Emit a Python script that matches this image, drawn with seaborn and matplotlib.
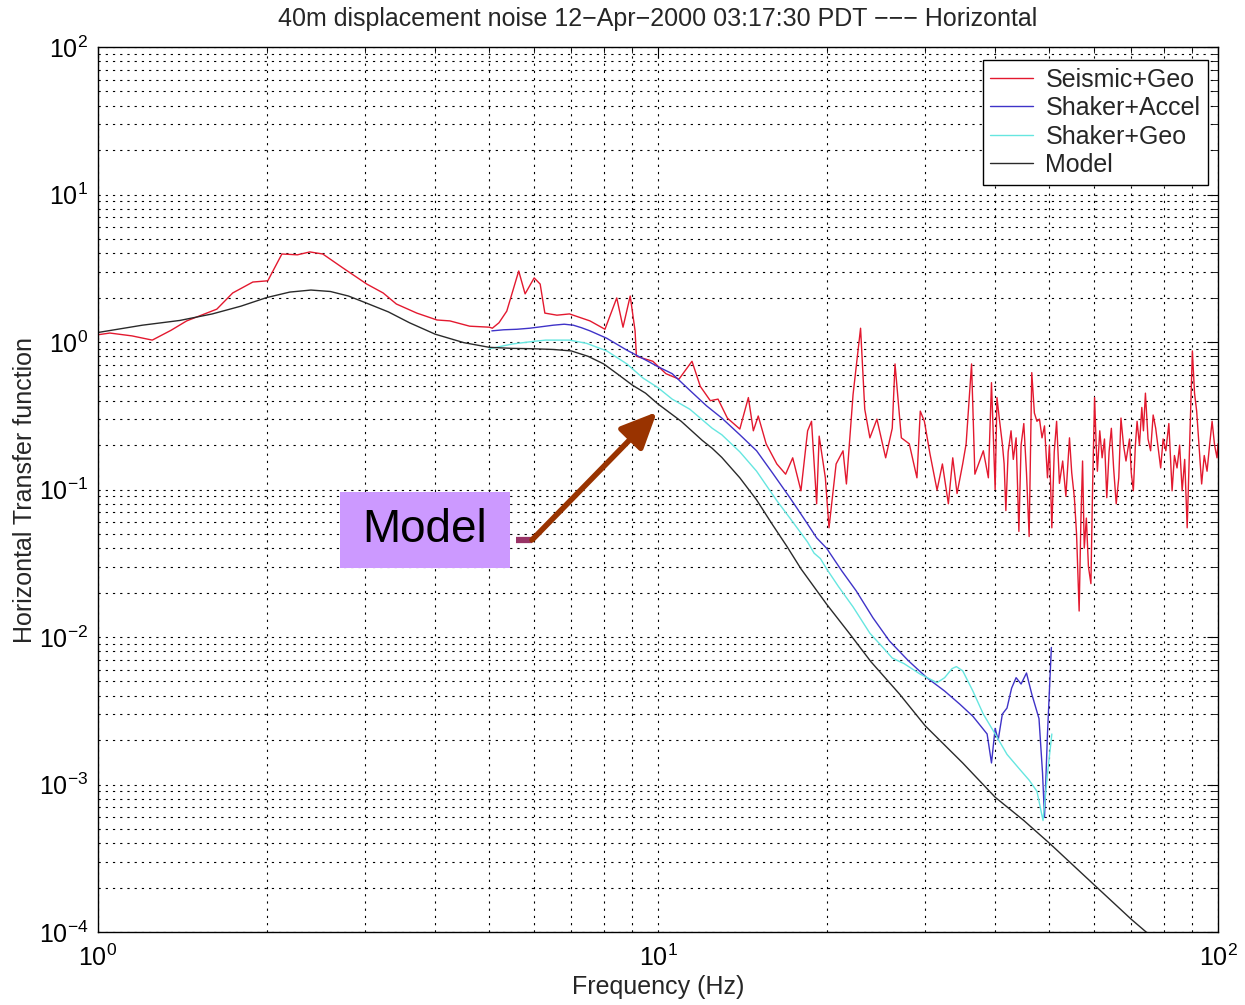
import matplotlib
matplotlib.use("Agg")
import matplotlib.pyplot as plt
from matplotlib.lines import Line2D
from matplotlib.patches import Rectangle
from matplotlib.ticker import FixedLocator, LogLocator, NullFormatter
import seaborn as sns
import pandas as pd

# ---------------- data ----------------
seismic_f = [1.0, 1.05, 1.15, 1.25, 1.35, 1.44, 1.55, 1.63, 1.74, 1.89, 2.01, 2.13, 2.27, 2.39,
             2.52, 2.74, 3.02, 3.23, 3.41, 3.71, 4.03, 4.25, 4.61, 5.0, 5.06, 5.2, 5.37, 5.64,
             5.79, 6.01, 6.16, 6.28, 6.6, 6.95, 7.56, 8.04, 8.44, 8.66, 8.92, 9.1, 9.15, 9.79,
             10.33, 10.9, 11.5, 11.9, 12.4, 12.8, 13.3, 14.0, 14.5, 14.8, 15.1, 15.6, 16.3,
             16.9, 17.4, 18.0, 18.5, 18.8, 19.2, 19.4, 19.9, 20.2, 20.8, 21.4, 21.7, 22.3, 23.0,
             23.4, 23.9, 24.6, 25.5, 26.2, 26.5, 27.2, 28.1, 29.0, 29.4, 29.9, 30.6, 31.5, 32.2,
             33.0, 33.6, 34.2, 35.0, 35.5, 36.3, 36.8, 38.1, 38.9, 39.4,
             40.0, 40.3, 40.7, 41.2, 41.5, 41.8, 42.2, 42.7, 43.1, 43.6, 44.1, 44.5, 45.0, 45.5,
             46.0, 46.5, 47.0, 47.5, 48.0, 48.5, 49.0, 49.6, 50.0, 50.5, 51.0, 51.5, 52.1, 52.8,
             53.5, 54.3, 54.8, 55.4, 55.9, 56.5, 56.9, 57.3, 57.7, 58.2, 58.7, 59.3, 59.7, 60.2,
             60.6, 60.9, 61.5, 62.1, 62.7, 63.3, 63.9, 64.5, 65.1, 65.8, 66.5, 67.1, 67.8, 68.5,
             69.5, 70.0, 70.6, 71.2, 71.7, 72.4, 73.1, 73.6, 74.2, 75.0, 75.8, 76.6, 77.4, 78.2,
             79.0, 79.8, 80.7, 81.7, 82.8, 83.6, 84.5, 85.4, 86.3, 87.2, 88.1, 89.0, 90.0, 90.8,
             91.6, 92.5, 93.5, 94.5, 95.6, 96.6, 97.6, 98.6, 99.6, 100.0]
seismic_v = [1.12, 1.15, 1.10, 1.03, 1.20, 1.39, 1.55, 1.67, 2.15, 2.55, 2.60, 3.95, 3.90, 4.08,
             3.95, 3.17, 2.47, 2.15, 1.81, 1.57, 1.41, 1.39, 1.28, 1.26, 1.24, 1.35, 1.62, 3.03,
             2.12, 2.72, 2.47, 1.57, 1.52, 1.55, 1.39, 1.22, 1.99, 1.26, 2.05, 1.19, 0.80, 0.74,
             0.61, 0.56, 0.74, 0.50, 0.40, 0.41, 0.305, 0.257, 0.42, 0.25, 0.315, 0.204, 0.149,
             0.127, 0.164, 0.098, 0.25, 0.29, 0.08, 0.23, 0.12, 0.055, 0.149, 0.183, 0.109, 0.44, 1.24,
             0.35, 0.224, 0.30, 0.164, 0.26, 0.71, 0.224, 0.204, 0.12, 0.34, 0.29, 0.174, 0.099, 0.149,
             0.08, 0.164, 0.094, 0.149, 0.204, 0.71, 0.127, 0.183, 0.12, 0.53,
             0.10, 0.42, 0.30, 0.204, 0.15, 0.072, 0.18, 0.25, 0.16, 0.224, 0.052, 0.20, 0.28, 0.13,
             0.048, 0.62, 0.33, 0.29, 0.30, 0.224, 0.27, 0.12, 0.20, 0.055, 0.18, 0.29, 0.11, 0.156,
             0.09, 0.224, 0.13, 0.088, 0.05, 0.015, 0.06, 0.156, 0.04, 0.064, 0.03, 0.023, 0.10, 0.42,
             0.20, 0.133, 0.25, 0.164, 0.22, 0.088, 0.18, 0.26, 0.14, 0.08, 0.12, 0.305, 0.20, 0.156,
             0.22, 0.13, 0.098, 0.20, 0.29, 0.20, 0.36, 0.25, 0.45, 0.22, 0.183, 0.32, 0.26, 0.19,
             0.14, 0.22, 0.183, 0.28, 0.098, 0.17, 0.14, 0.20, 0.098, 0.16, 0.055, 0.20, 0.87, 0.45,
             0.34, 0.20, 0.109, 0.17, 0.133, 0.20, 0.29, 0.20, 0.164, 0.204]

accel_f = [5.05, 5.3, 5.6, 5.9, 6.2, 6.5, 6.8, 7.06, 7.3, 7.56, 8.1, 8.8, 9.6, 10.0, 10.6, 11.4,
           12.2, 13.0, 14.0, 15.0, 16.0, 17.2, 18.2, 19.2, 20.0, 21.3, 22.6, 24.2, 25.9, 28.0,
           30.2, 32.5, 34.6, 36.5, 38.7, 39.4, 40.0, 40.5, 41.2, 42.0, 42.8, 43.6, 44.5, 45.5,
           46.5, 47.9, 48.6, 49.0, 49.6, 50.4]
accel_v = [1.19, 1.21, 1.22, 1.24, 1.27, 1.30, 1.32, 1.30, 1.25, 1.19, 1.06, 0.88, 0.74, 0.68,
           0.61, 0.47, 0.37, 0.305, 0.235, 0.183, 0.13, 0.088, 0.064, 0.047, 0.04, 0.028, 0.0205,
           0.0135, 0.0094, 0.0069, 0.0053, 0.0043, 0.0035, 0.0029, 0.0022, 0.0014, 0.0024, 0.0020,
           0.0030, 0.0033, 0.0045, 0.0053, 0.0048, 0.0057, 0.0041, 0.0028, 0.0012, 0.0006, 0.0022,
           0.0085]

geo_f = [5.0, 5.5, 6.0, 6.3, 6.95, 7.45, 8.1, 8.8, 9.4, 10.0, 10.6, 11.4, 12.5, 13.0, 14.0, 15.0,
         16.3, 17.2, 18.5, 19.0, 19.5, 20.0, 21.0, 22.3, 23.9, 25.0, 26.2, 27.5, 29.4, 31.5, 32.5,
         33.5, 34.1, 35.0, 36.5, 38.1, 40.0, 42.0, 44.0, 46.0, 47.5, 48.7, 49.6, 50.5]
geo_v = [0.90, 0.97, 1.01, 1.03, 1.03, 0.98, 0.87, 0.71, 0.57, 0.49, 0.41, 0.35, 0.26, 0.235,
         0.18, 0.133, 0.084, 0.064, 0.044, 0.037, 0.034, 0.029, 0.022, 0.016, 0.0106, 0.0088,
         0.0072, 0.0066, 0.0056, 0.0049, 0.0053, 0.0061, 0.0063, 0.0059, 0.0043, 0.0030, 0.0022,
         0.0016, 0.0013, 0.00107, 0.0009, 0.00057, 0.00118, 0.0022]

model_f = [1.0, 1.2, 1.4, 1.6, 1.8, 2.0, 2.2, 2.4, 2.6, 2.8, 3.0, 3.3, 3.6, 4.0, 4.5, 5.0, 5.5,
           6.0, 6.5, 7.0, 7.5, 8.0, 8.5, 9.0, 9.5, 10.0, 11.0, 12.0, 12.5, 13.0, 14.0, 15.0, 16.0,
           17.0, 18.0, 20.0, 22.0, 24.0, 27.0, 30.0, 35.0, 40.0, 45.0, 50.0, 60.0, 70.0, 80.0]
model_v = [1.16, 1.30, 1.40, 1.55, 1.75, 2.00, 2.18, 2.25, 2.20, 2.05, 1.85, 1.60, 1.35, 1.13,
           0.99, 0.92, 0.905, 0.90, 0.89, 0.87, 0.80, 0.71, 0.60, 0.51, 0.45, 0.38, 0.29, 0.215,
           0.19, 0.165, 0.12, 0.085, 0.058, 0.041, 0.029, 0.0167, 0.0105, 0.0068, 0.0041, 0.0025,
           0.0014, 0.00082, 0.00057, 0.0004, 0.00021, 0.000122, 0.000079]

x_ticks = [1, 10, 100]
y_ticks = [1e-4, 1e-3, 1e-2, 1e-1, 1, 10, 100]

series_labels = ["Seismic+Geo", "Shaker+Accel", "Shaker+Geo", "Model"]
series_colors = ["#E3192F", "#3F33C8", "#66E6E0", "#2A2A2A"]
title_text = "40m displacement noise 12\u2212Apr\u22122000 03:17:30 PDT \u2212\u2212\u2212 Horizontal"

# ---------------- style ----------------
sns.set_style("white")
plt.rcParams["font.family"] = ["Liberation Sans", "DejaVu Sans"]
plt.rcParams["mathtext.fontset"] = "custom"
plt.rcParams["mathtext.rm"] = "Liberation Sans"
plt.rcParams["mathtext.it"] = "Liberation Sans:italic"
plt.rcParams["mathtext.bf"] = "Liberation Sans:bold"

fig = plt.figure(figsize=(12.45, 10.05), dpi=100)
ax = fig.add_axes([98 / 1245, 1 - 932 / 1005, 1120 / 1245, 885 / 1005])

frames = [
    pd.DataFrame({"f": seismic_f, "v": seismic_v}),
    pd.DataFrame({"f": accel_f, "v": accel_v}),
    pd.DataFrame({"f": geo_f, "v": geo_v}),
    pd.DataFrame({"f": model_f, "v": model_v}),
]
for df, col in zip(frames, series_colors):
    sns.lineplot(data=df, x="f", y="v", color=col, lw=1.0, estimator=None,
                 sort=False, ax=ax, legend=False)

ax.set_xscale("log")
ax.set_yscale("log")
ax.set_xlim(1, 100)
ax.set_ylim(1e-4, 1e2)

ax.xaxis.set_major_locator(FixedLocator(x_ticks))
ax.yaxis.set_major_locator(FixedLocator(y_ticks))
ax.xaxis.set_minor_locator(LogLocator(base=10, subs=range(2, 10)))
ax.yaxis.set_minor_locator(LogLocator(base=10, subs=range(2, 10), numticks=20))
ax.xaxis.set_minor_formatter(NullFormatter())
ax.yaxis.set_minor_formatter(NullFormatter())

ax.grid(True, which="both", linestyle=(0, (2, 4.5)), linewidth=0.8, color="black")
ax.tick_params(which="both", direction="in", top=True, right=True, colors="black")
ax.tick_params(which="major", length=8, width=0.8, labelsize=18)
ax.tick_params(axis="x", which="major", pad=9)
ax.tick_params(axis="y", which="major", pad=7)
ax.tick_params(which="minor", length=4, width=0.6)
for s in ax.spines.values():
    s.set_color("black")
    s.set_linewidth(1.0)

ax.set_title(title_text, fontsize=18, pad=15)
ax.set_xlabel("Frequency (Hz)", fontsize=18, labelpad=3)
ax.set_ylabel("Horizontal Transfer function", fontsize=18, labelpad=1)

handles = [Line2D([], [], color=c, lw=1.0) for c in series_colors]
leg = ax.legend(handles, series_labels, loc="upper right", bbox_to_anchor=(0.991, 0.9853),
                borderaxespad=0, fancybox=False, edgecolor="black", framealpha=1,
                fontsize=18, handlelength=1.7, handletextpad=0.5, labelspacing=0.18,
                borderpad=0.3)
leg.get_frame().set_linewidth(1.0)

# annotation "Model" box and arrow
ax.add_patch(Rectangle((0.216, 0.411), 0.152, 0.0859, transform=ax.transAxes,
                       facecolor="#CC99FF", edgecolor="none", zorder=5))
ax.text(0.292, 0.454, "Model", transform=ax.transAxes, fontsize=33, ha="center",
        va="center", color="black", zorder=6)
ax.plot([0.3732, 0.3875], [0.443, 0.443], transform=ax.transAxes, color="#993366",
        lw=4.5, solid_capstyle="butt", zorder=6)
ax.annotate("", xy=(0.499, 0.5876), xytext=(0.3875, 0.443), xycoords="axes fraction",
            arrowprops=dict(arrowstyle="-|>,head_length=1.1,head_width=0.5",
                            color="#993300", lw=4, mutation_scale=20,
                            shrinkA=0, shrinkB=0), zorder=7)

fig.savefig("out.png", dpi=100)
